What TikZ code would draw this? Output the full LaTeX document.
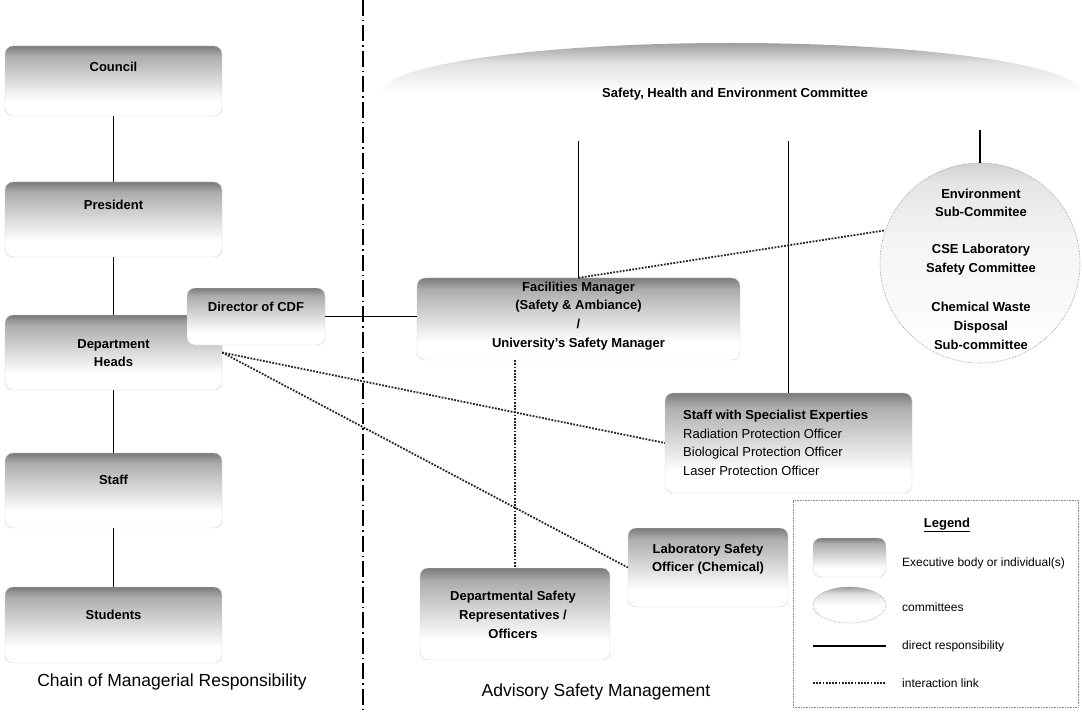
\documentclass[tikz,border=0pt]{standalone}
\usepackage{fontspec}
\setmainfont{Liberation Sans}
\usetikzlibrary{calc,shapes.geometric}
\pgfdeclareverticalshading{boxshade}{100bp}{color(0bp)=(white); color(25bp)=(white); color(36bp)=(white); color(46bp)=(black!10); color(58bp)=(black!22); color(68bp)=(black!32); color(75bp)=(black!52); color(100bp)=(black!52)}
\pgfdeclareverticalshading{cmtshade}{100bp}{color(0bp)=(white); color(25bp)=(white); color(50bp)=(white); color(65bp)=(black!12); color(75bp)=(black!38); color(100bp)=(black!38)}
\pgfdeclareverticalshading{subshade}{100bp}{color(0bp)=(white); color(25bp)=(white); color(55bp)=(black!4); color(70bp)=(black!10); color(75bp)=(black!18); color(100bp)=(black!18)}
\tikzset{
  box/.style={rectangle, rounded corners=8pt, shading=boxshade, draw=black!18, line width=0.4pt, inner sep=0pt},
  cmt/.style={ellipse, shading=cmtshade, draw=black!40, densely dotted, line width=0.6pt, inner sep=0pt},
  lbl/.style={font=\fontsize{13}{18.7}\selectfont\bfseries, align=center, inner sep=0pt},
  spl/.style={font=\fontsize{13}{18.7}\selectfont, align=left, inner sep=0pt},
  lgd/.style={font=\fontsize{12}{14}\selectfont, inner sep=0pt, anchor=west},
  ttl/.style={font=\fontsize{17.5}{21}\selectfont, inner sep=0pt},
  resp/.style={line width=1.6pt, black},
  inter/.style={line width=1.8pt, dash pattern=on 1.8pt off 1.4pt, black!85},
  divider/.style={line width=1.3pt, dash pattern=on 16pt off 4pt on 1.5pt off 4pt},
}
\begin{document}
\begin{tikzpicture}[x=1pt,y=-1pt]
\useasboundingbox (0,0) rectangle (1082,714);
% divider
\coordinate (divtop) at (363,0);
\coordinate (divbot) at (363,714);
\draw[divider] (divtop) -- (divbot);

% left column
\node[box, minimum width=217pt, minimum height=70pt] (council) at (113.5,81) {};
\node[lbl] (councilT) at (113.5,67) {Council};
\node[box, minimum width=217pt, minimum height=75pt] (president) at (113.5,219.5) {};
\node[lbl] (presidentT) at (113.5,205) {President};
\node[box, minimum width=217pt, minimum height=75pt] (dept) at (113.5,352.5) {};
\node[lbl] (deptT) at (113.5,353) {Department\\Heads};
\node[box, minimum width=217pt, minimum height=75pt] (staff) at (113.5,490.5) {};
\node[lbl] (staffT) at (113.5,480) {Staff};
\node[box, minimum width=217pt, minimum height=76pt] (students) at (113.5,625) {};
\node[lbl] (studentsT) at (113.5,615) {Students};
\node[box, minimum width=138pt, minimum height=57pt] (director) at (256,316.5) {};
\node[lbl] (directorT) at (256,307) {Director of CDF};

% right side
\node[cmt, solid, draw=none, minimum width=698pt, minimum height=98pt] (she) at (731,92) {};
\node[lbl] (sheT) at (735,94) {Safety, Health and Environment Committee};
\node[box, minimum width=323pt, minimum height=82pt] (fac) at (578.5,319) {};
\node[lbl] (facT) at (578.5,316) {Facilities Manager\\(Safety \& Ambiance)\\/\\University's Safety Manager};
\node[cmt, circle, shading=subshade, draw=black!45, minimum size=200pt] (sub) at (980,263) {};
\node[lbl] (subA) at (981,203) {Environment\\Sub-Commitee};
\node[lbl] (subB) at (981,259.5) {CSE Laboratory\\Safety Committee};
\node[lbl] (subC) at (981,326) {Chemical Waste\\Disposal\\Sub-committee};
\node[box, minimum width=247pt, minimum height=100pt] (spec) at (788.5,443) {};
\node[spl, anchor=west] (specT) at (683,443) {\textbf{Staff with Specialist Experties}\\Radiation Protection Officer\\Biological Protection Officer\\Laser Protection Officer};
\node[box, minimum width=160pt, minimum height=79pt] (lab) at (708,567.5) {};
\node[lbl] (labT) at (708,559) {Laboratory Safety\\Officer (Chemical)};
\node[box, minimum width=190pt, minimum height=92pt] (dsr) at (515,614) {};
\node[lbl] (dsrT) at (513,615) {Departmental Safety\\Representatives /\\Officers};

% direct responsibility
\draw[resp] (council.south) -- (president.north);
\draw[resp] (president.south) -- (dept.north);
\draw[resp] (dept.south) -- (staff.north);
\draw[resp] (staff.south) -- (students.north);
\draw[resp] (director.east) -- (director.east -| fac.west);
\draw[resp] (fac.north) -- (fac.north |- she.south);
\draw[resp] (spec.north) -- (spec.north |- she.south);
\coordinate (subtop) at (980,130);
\draw[resp] (subtop) -- (sub.north);

% interaction links
\draw[inter] (fac.north) -- (sub.161);
\draw[inter] (dept.east) -- (spec.west);
\draw[inter] (dept.east) -- (lab.west);
\draw[inter] (fac.south -| dsr.north) -- (dsr.north);

% titles
\node[ttl] (t1) at (172,682) {Chain of Managerial Responsibility};
\node[ttl] (t2) at (596,692) {Advisory Safety Management};

% legend
\node[draw=black!45, densely dotted, line width=0.6pt, minimum width=285pt, minimum height=207pt, inner sep=0pt] (legend) at (935.5,603.5) {};
\node[font=\fontsize{13}{15}\selectfont\bfseries, inner sep=0pt] (legT) at (947,525) {\underline{Legend}};
\node[box, minimum width=73pt, minimum height=39pt] (lbox) at (849.5,557.5) {};
\node[lgd] (lboxT) at (902,563) {Executive body or individual(s)};
\node[cmt, minimum width=73pt, minimum height=36pt] (lell) at (849.5,605) {};
\node[lgd] (lellT) at (902,607) {committees};
\coordinate (la1) at (813,646);
\coordinate (la2) at (886,646);
\draw[resp] (la1) -- (la2);
\node[lgd] (lresT) at (902,646) {direct responsibility};
\coordinate (lb1) at (813,683);
\coordinate (lb2) at (886,683);
\draw[inter] (lb1) -- (lb2);
\node[lgd] (lintT) at (902,683) {interaction link};
\end{tikzpicture}
\end{document}
